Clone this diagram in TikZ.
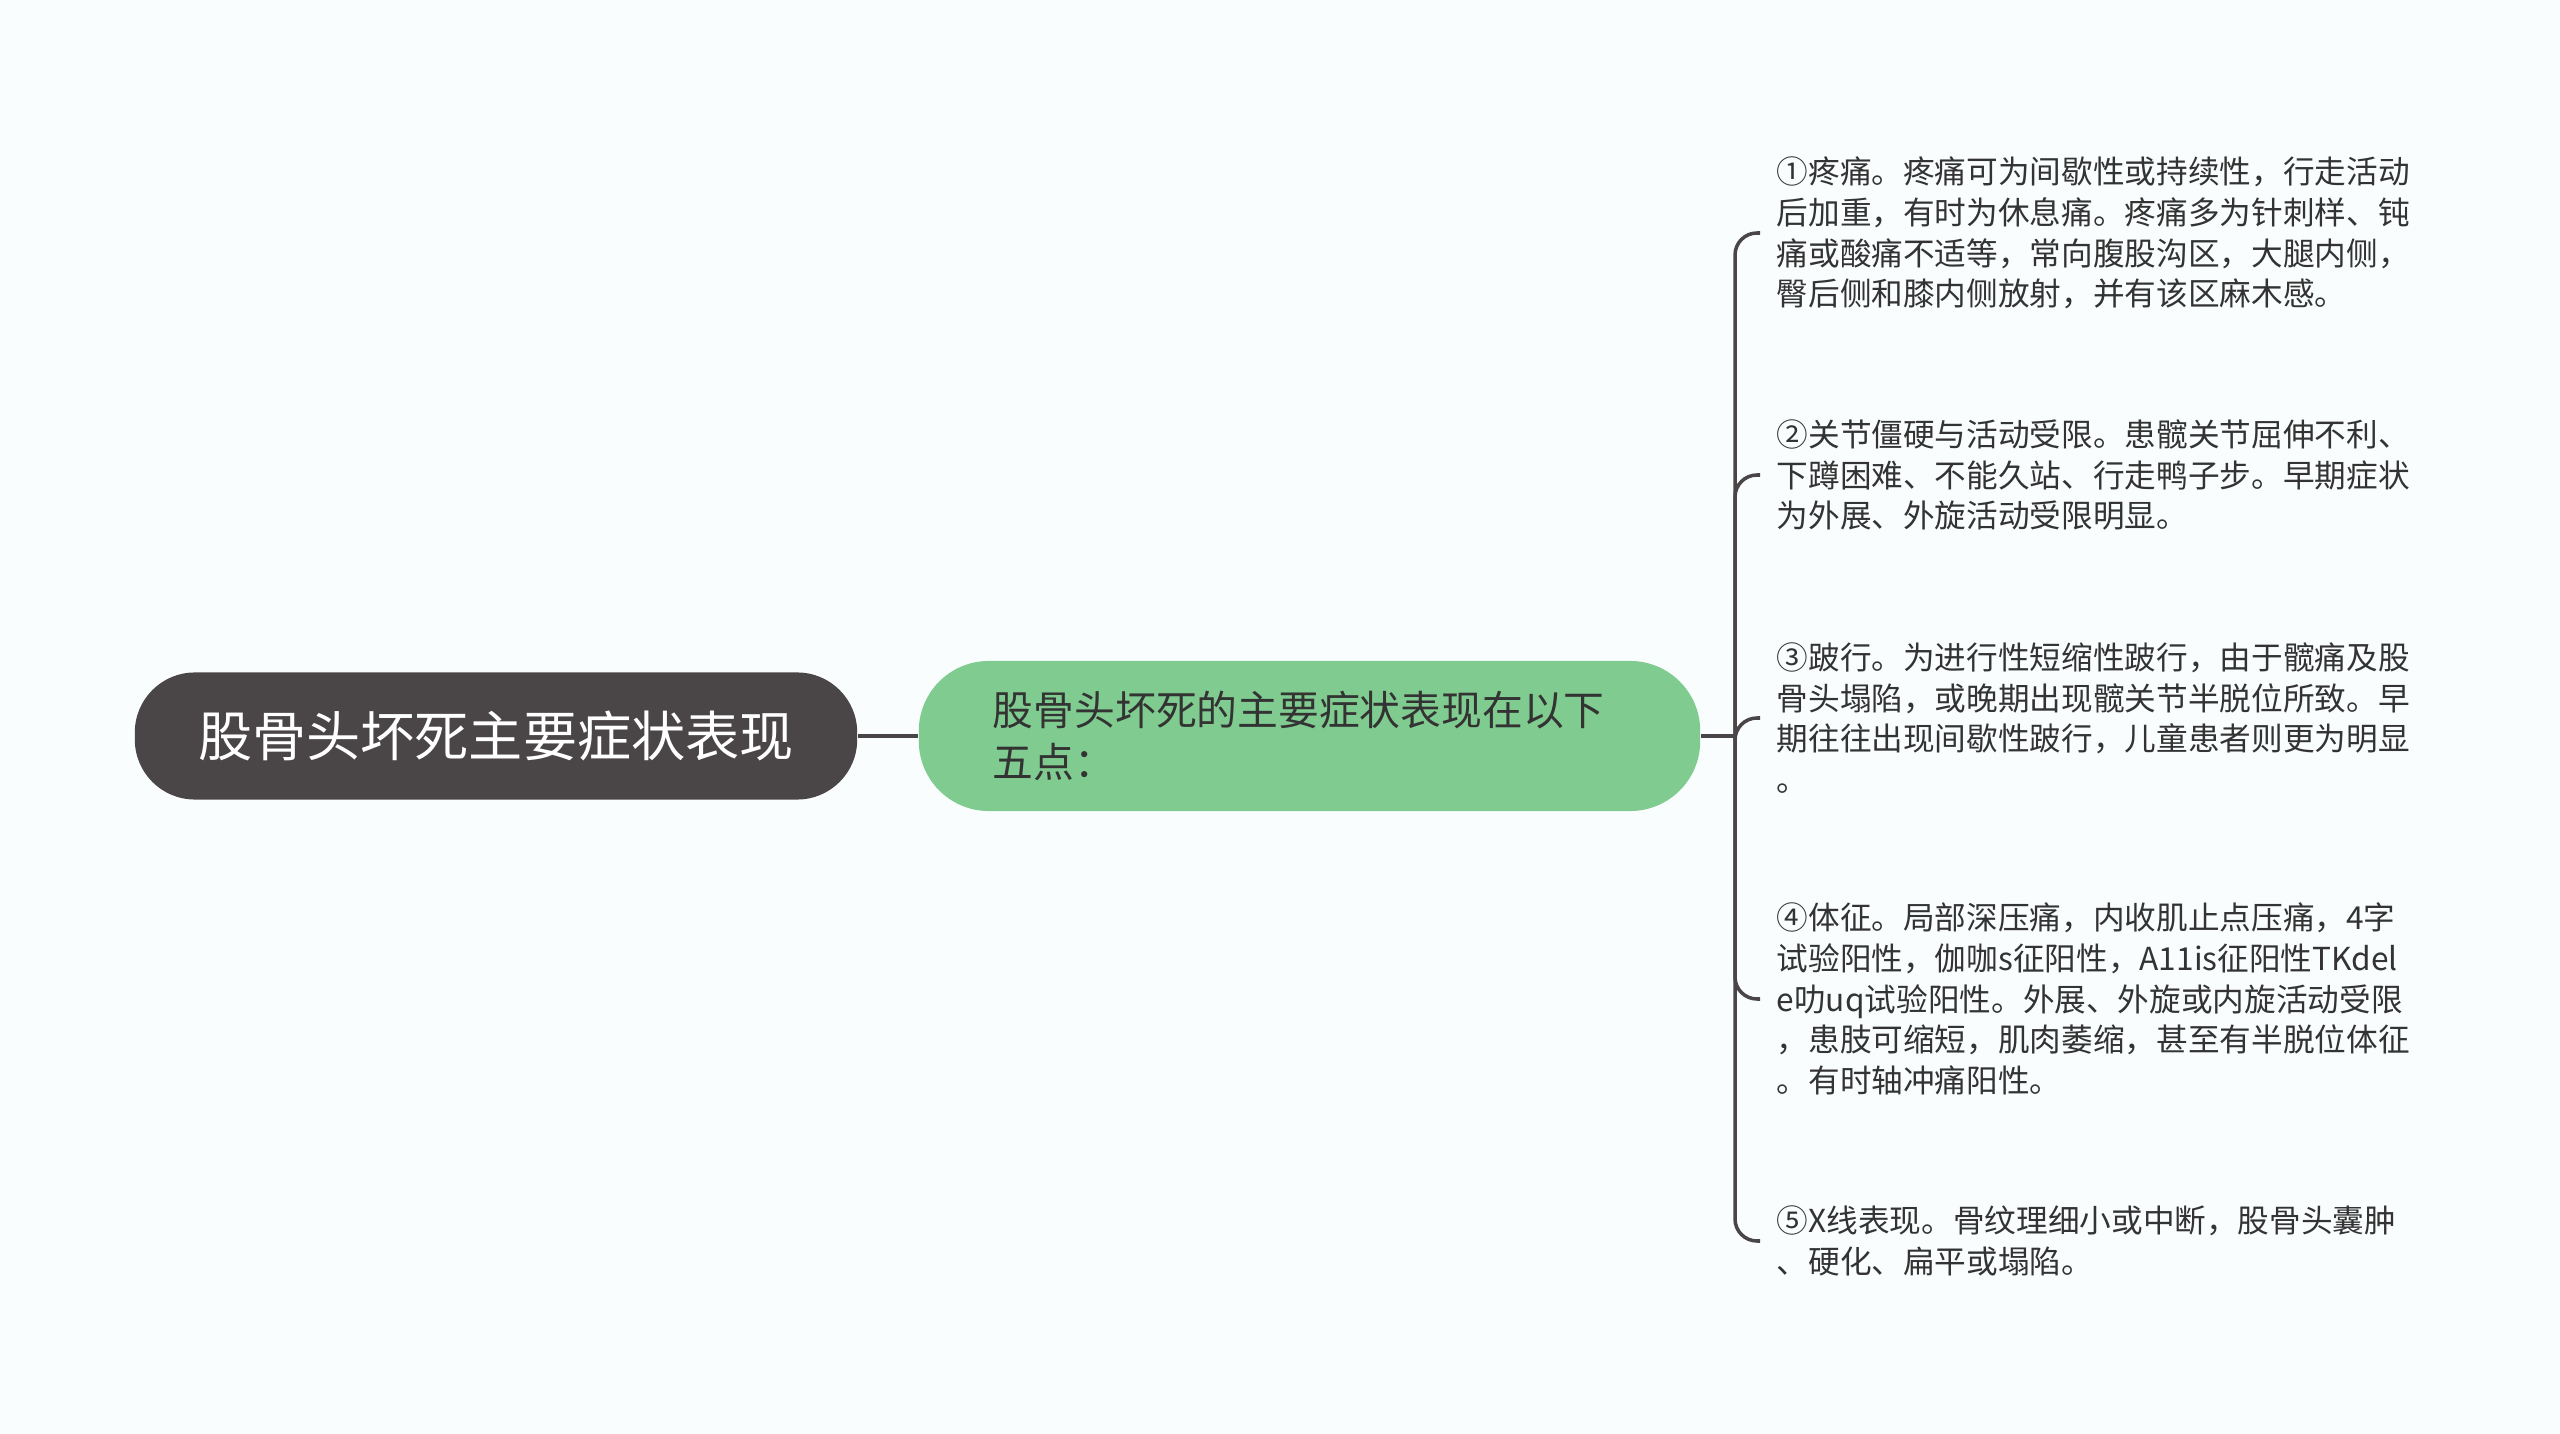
\documentclass[tikz,border=0pt]{standalone}
\usepackage{fontspec}
\setmainfont{Noto Sans CJK SC}
\definecolor{rootgray}{HTML}{4A4546}
\definecolor{topicgreen}{HTML}{80CC90}
\definecolor{inkgray}{HTML}{333333}
\definecolor{paper}{HTML}{FAFDFE}
\tikzset{
  rootbox/.style={fill=rootgray, text=white, rounded corners=0.6cm, minimum width=7.22cm,
    minimum height=1.27cm, inner sep=0pt, font=\fontsize{15.4pt}{18pt}\selectfont},
  topicbox/.style={fill=topicgreen, text=inkgray, rounded corners=0.7cm, minimum height=1.5cm,
    text width=6.33cm, inner xsep=0.74cm, inner ysep=0pt, align=left,
    font=\fontsize{11.6pt}{14.8pt}\selectfont},
  leafbox/.style={anchor=west, text=inkgray, inner xsep=0.16cm, inner ysep=0pt, align=left,
    font=\fontsize{9pt}{11.6pt}\selectfont},
  branch/.style={draw=rootgray, line width=1pt, rounded corners=0.22cm},
}
\begin{document}
\begin{tikzpicture}[x=0.01cm, y=-0.01cm]
  \fill [paper] (0,0) rectangle (2560,1434);
  \node [rootbox] (root) at (496,736) {股骨头坏死主要症状表现};
  \node [topicbox] (topic) at (1309.5,736) {股骨头坏死的主要症状表现在以下\\五点：};
  \coordinate (hub) at (1735,736);
  \node [leafbox] (s1) at (1760,233) {①疼痛。疼痛可为间歇性或持续性，行走活动\\后加重，有时为休息痛。疼痛多为针刺样、钝\\痛或酸痛不适等，常向腹股沟区，大腿内侧，\\臀后侧和膝内侧放射，并有该区麻木感。};
  \node [leafbox] (s2) at (1760,475) {②关节僵硬与活动受限。患髋关节屈伸不利、\\下蹲困难、不能久站、行走鸭子步。早期症状\\为外展、外旋活动受限明显。};
  \node [leafbox] (s3) at (1760,718) {③跛行。为进行性短缩性跛行，由于髋痛及股\\骨头塌陷，或晚期出现髋关节半脱位所致。早\\期往往出现间歇性跛行，儿童患者则更为明显\\。};
  \node [leafbox] (s4) at (1760,999) {④体征。局部深压痛，内收肌止点压痛，4字\\试验阳性，伽咖s征阳性，A11is征阳性TKdel\\e叻uq试验阳性。外展、外旋或内旋活动受限\\，患肢可缩短，肌肉萎缩，甚至有半脱位体征\\。有时轴冲痛阳性。};
  \node [leafbox] (s5) at (1760,1241) {⑤X线表现。骨纹理细小或中断，股骨头囊肿\\、硬化、扁平或塌陷。};
  \draw [branch] (root) -- (topic);
  \draw [branch] (topic) -- (hub);
  \foreach \s in {s1,s2,s3,s4,s5}
    \draw [branch] (hub) |- (\s.west);
\end{tikzpicture}
\end{document}
